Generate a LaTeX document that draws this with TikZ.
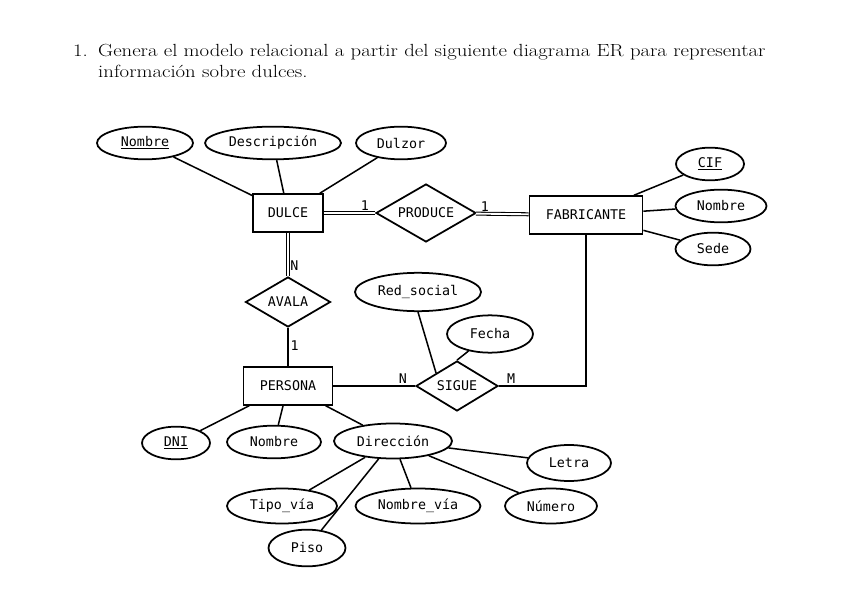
\documentclass[tikz,border=0pt]{standalone}
\usepackage{graphicx}
\usepackage{fontspec}
\newfontfamily\ermono{DejaVu Sans Mono}
\newcommand\erfont{\ermono\fontsize{11.4}{13}\selectfont}
\usepackage{tikz}
\usetikzlibrary{positioning, shapes.geometric}

\begin{document}
\begin{tikzpicture}[
        x=0.03cm, y=-0.03cm,
        entidad/.style={rectangle, draw, line width=1.5pt, inner sep=0pt, minimum height=1.13cm, font=\erfont},
        atributo/.style={ellipse, draw, line width=1.5pt, inner sep=0pt, minimum height=0.98cm, font=\erfont},
        relacion/.style={diamond, draw, line width=1.5pt, inner sep=0pt, aspect=1.7, font=\erfont},
        enlace/.style={line width=1.3pt},
        doble/.style={double, line width=0.9pt, double distance=1.6pt},
        card/.style={font=\erfont, inner sep=1.5pt},
        enunciado/.style={inner sep=0pt, font=\fontsize{15}{18}\selectfont},
    ]
    \useasboundingbox (0,0) rectangle (848,599);
    % ENUNCIADO
    \node[enunciado, anchor=base east] (num) at (88,57) {\scalebox{1.18}[1]{1.}};
    \node[enunciado, anchor=base west] (linea1) at (98,57) {\scalebox{1.18}[1]{Genera el modelo relacional a partir del siguiente diagrama ER para representar}};
    \node[enunciado, anchor=base west] (linea2) at (98,78) {\scalebox{1.18}[1]{información sobre dulces.}};
    % DULCE
    \node[entidad, minimum width=2.1cm] (dulce) at (288,213) {DULCE};
    \node[atributo, minimum width=2.88cm] (nomdulce) at (145,143) {\underline{Nombre}};
    \node[atributo, minimum width=4.08cm] (desc) at (273,143) {Descripción};
    \node[atributo, minimum width=2.7cm] (dulzor) at (401,143) {Dulzor};
    \foreach \a in {nomdulce,desc,dulzor}
        \draw[enlace] (\a) -- (dulce);
    % FABRICANTE
    \node[entidad, minimum width=3.39cm] (fab) at (586,215) {FABRICANTE};
    \node[atributo, minimum width=2.04cm] (cif) at (710,164) {\underline{CIF}};
    \node[atributo, minimum width=2.73cm] (nomfab) at (721,206) {Nombre};
    \node[atributo, minimum width=2.25cm] (sede) at (713,249) {Sede};
    \foreach \a in {cif,nomfab,sede}
        \draw[enlace] (\a) -- (fab);
    % PRODUCE
    \node[relacion, minimum width=3cm, minimum height=1.74cm] (produce) at (426,213) {PRODUCE};
    \draw[doble] (dulce) -- node[card, pos=0.8, above] {1} (produce);
    \draw[doble] (produce) -- node[card, pos=0.17, above] {1} (fab);
    % PERSONA
    \node[entidad, minimum width=2.67cm] (persona) at (288,386) {PERSONA};
    \node[relacion, minimum width=2.55cm, minimum height=1.5cm] (avala) at (288,302) {AVALA};
    \draw[doble] (dulce) -- node[card, pos=0.76, right] {N} (avala);
    \draw[enlace] (avala) -- node[card, pos=0.45, right] {1} (persona);
    \node[atributo, minimum width=2.04cm] (dni) at (176,443) {\underline{DNI}};
    \node[atributo, minimum width=2.82cm] (nompers) at (274,442) {Nombre};
    \node[atributo, minimum width=3.54cm, minimum height=1.05cm] (direccion) at (393,441) {Dirección};
    \foreach \a in {dni,nompers,direccion}
        \draw[enlace] (\a) -- (persona);
    % DIRECCION
    \node[atributo, minimum width=2.52cm, minimum height=1.08cm] (letra) at (569,463) {Letra};
    \node[atributo, minimum width=3.3cm, minimum height=1.05cm] (tipovia) at (282,506) {Tipo\_vía};
    \node[atributo, minimum width=3.75cm, minimum height=1.05cm] (nombrevia) at (418,506) {Nombre\_vía};
    \node[atributo, minimum width=2.76cm, minimum height=1.05cm] (numero) at (551,506) {Número};
    \node[atributo, minimum width=2.31cm, minimum height=1.1cm] (piso) at (307,548) {Piso};
    \foreach \a in {letra,tipovia,nombrevia,numero,piso}
        \draw[enlace] (direccion) -- (\a);
    % SIGUE
    \node[relacion, minimum width=2.46cm, minimum height=1.5cm] (sigue) at (457,386) {SIGUE};
    \node[atributo, minimum width=3.78cm, minimum height=1.15cm] (redsocial) at (418,292) {Red\_social};
    \node[atributo, minimum width=2.58cm, minimum height=1.12cm] (fecha) at (490,334) {Fecha};
    \draw[enlace] (redsocial.south) -- (sigue.north west);
    \draw[enlace] (fecha) -- (sigue.north);
    \draw[enlace] (persona) -- node[card, pos=0.85, above] {N} (sigue);
    \draw[enlace] (sigue) -| node[card, pos=0.07, above] {M} (fab);
\end{tikzpicture}
\end{document}
